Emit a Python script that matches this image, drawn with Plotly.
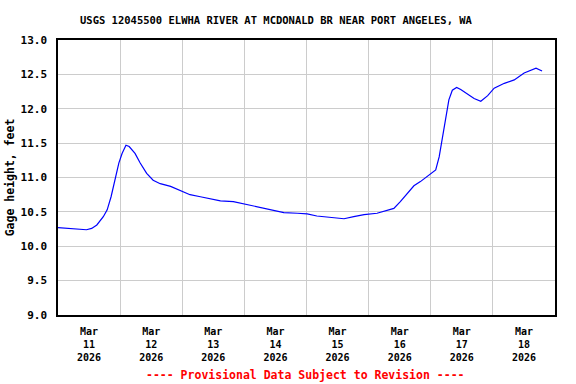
import plotly.graph_objects as go

times = [
    "2026-03-11 00:00", "2026-03-11 03:00", "2026-03-11 06:30", "2026-03-11 11:00",
    "2026-03-11 13:00", "2026-03-11 15:00", "2026-03-11 17:30", "2026-03-11 19:00",
    "2026-03-11 20:30", "2026-03-11 22:00", "2026-03-11 23:30", "2026-03-12 00:45",
    "2026-03-12 02:15", "2026-03-12 03:30", "2026-03-12 05:45", "2026-03-12 07:45",
    "2026-03-12 10:15", "2026-03-12 12:45", "2026-03-12 15:30", "2026-03-12 19:30",
    "2026-03-12 23:15", "2026-03-13 03:00", "2026-03-13 07:00", "2026-03-13 14:45",
    "2026-03-13 19:45", "2026-03-14 00:30", "2026-03-14 05:00", "2026-03-14 10:00",
    "2026-03-14 15:15", "2026-03-14 20:30", "2026-03-15 00:15", "2026-03-15 04:00",
    "2026-03-15 09:15", "2026-03-15 14:30", "2026-03-15 18:15", "2026-03-15 22:15",
    "2026-03-16 03:15", "2026-03-16 07:15", "2026-03-16 09:45", "2026-03-16 12:15",
    "2026-03-16 15:00", "2026-03-16 17:30", "2026-03-16 20:00", "2026-03-16 23:15",
    "2026-03-17 01:55", "2026-03-17 03:15", "2026-03-17 04:30", "2026-03-17 05:45",
    "2026-03-17 07:00", "2026-03-17 08:20", "2026-03-17 10:00", "2026-03-17 11:35",
    "2026-03-17 14:10", "2026-03-17 16:45", "2026-03-17 19:20", "2026-03-17 22:00",
    "2026-03-18 00:30", "2026-03-18 04:25", "2026-03-18 08:15", "2026-03-18 12:05",
    "2026-03-18 16:40", "2026-03-18 19:00",
]
gage_height = [
    10.27, 10.26, 10.25, 10.24,
    10.26, 10.31, 10.43, 10.53,
    10.72, 10.99, 11.21, 11.35,
    11.47, 11.45, 11.35, 11.21,
    11.06, 10.96, 10.91, 10.87,
    10.81, 10.75, 10.72, 10.66,
    10.65, 10.61, 10.58, 10.53,
    10.49, 10.48, 10.47, 10.44,
    10.42, 10.40, 10.43, 10.46,
    10.48, 10.53, 10.55, 10.65,
    10.77, 10.88, 10.94, 11.04,
    11.11, 11.30, 11.57, 11.88,
    12.13, 12.27, 12.31, 12.28,
    12.22, 12.15, 12.11, 12.19,
    12.30, 12.37, 12.42, 12.52,
    12.59, 12.55,
]

title_text = "USGS 12045500 ELWHA RIVER AT MCDONALD BR NEAR PORT ANGELES, WA"
y_title = "Gage height, feet"
footer_text = "---- Provisional Data Subject to Revision ----"

FONT = "DejaVu Sans Mono"

fig = go.Figure()
fig.add_trace(go.Scatter(
    x=times, y=gage_height, mode="lines",
    line=dict(color="#0000FF", width=1.2),
    showlegend=False,
))

fig.update_layout(
    width=576, height=384,
    margin=dict(l=58, r=21, t=40, b=69),
    paper_bgcolor="white", plot_bgcolor="white",
    font=dict(family=FONT, size=11, color="black", weight="bold"),
    xaxis=dict(
        type="date", automargin=False,
        range=["2026-03-11 00:00", "2026-03-19 00:00"],
        tick0="2026-03-11", dtick=86400000,
        ticklabelmode="period",
        tickformat="%b<br>%d<br>%Y",
        showgrid=True, gridcolor="#CCCCCC", gridwidth=1,
        showline=True, linecolor="black", linewidth=1.5, mirror=True,
        ticks="", ticklabelstandoff=6,
        tickfont=dict(family=FONT, size=10, color="black", weight="bold"),
        zeroline=False,
    ),
    yaxis=dict(
        range=[9.0, 13.0], automargin=False,
        tickvals=[9.0, 9.5, 10.0, 10.5, 11.0, 11.5, 12.0, 12.5, 13.0],
        tickformat=".1f",
        showgrid=True, gridcolor="#CCCCCC", gridwidth=1,
        showline=True, linecolor="black", linewidth=1.5, mirror=True,
        ticks="", ticklabelstandoff=7,
        tickfont=dict(family=FONT, size=11, color="black", weight="bold"),
        title=dict(text=y_title, standoff=4,
                   font=dict(family=FONT, size=11.5, color="black", weight="bold")),
        zeroline=False,
    ),
    annotations=[
        dict(text=title_text, xref="paper", yref="paper", x=0.44, y=1.0,
             yshift=20, showarrow=False, xanchor="center", yanchor="middle",
             font=dict(family=FONT, size=10.5, color="black", weight="bold")),
        dict(text=footer_text, xref="paper", yref="paper", x=0.497, y=0.0,
             yshift=-60, showarrow=False, xanchor="center", yanchor="middle",
             font=dict(family=FONT, size=11.5, color="#FF0000", weight="bold")),
    ],
)

fig.write_html(
    "out.html",
    config={"displayModeBar": False},
    post_script="document.body.style.margin='0';document.body.style.overflow='hidden';",
)
